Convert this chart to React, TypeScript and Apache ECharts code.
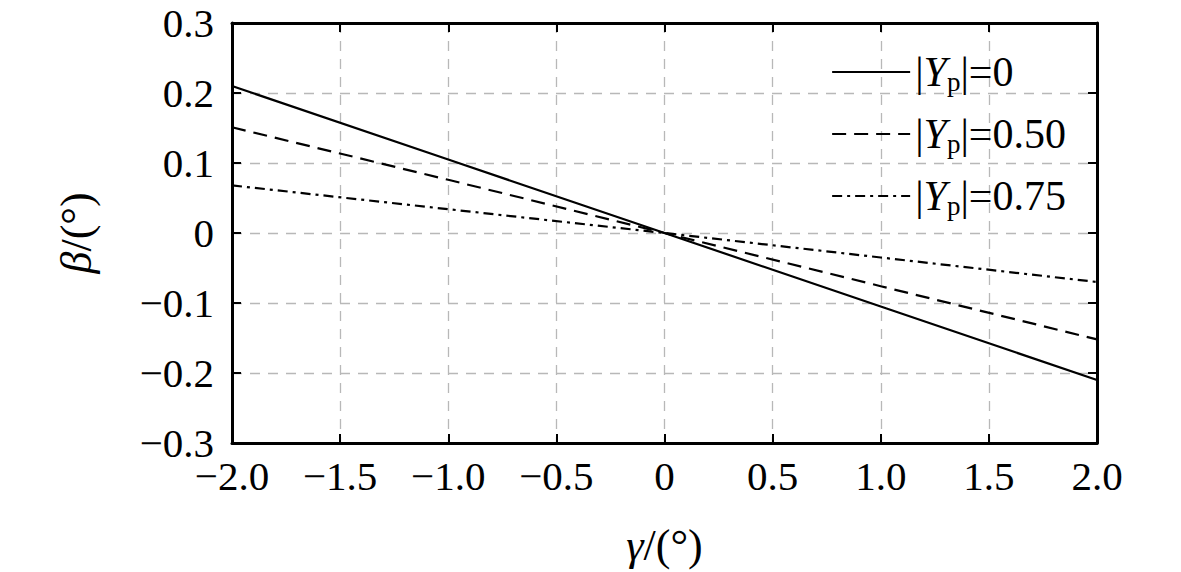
import React, { useEffect, useRef } from 'react';
import * as echarts from 'echarts';

// 横坐标 γ/(°)
const gammaValues = [-2.0, -1.0, 0, 1.0, 2.0];
// 纵坐标 β/(°)，按 |Yp| 分组
const beta_Yp0 = [0.21, 0.105, 0, -0.105, -0.21];
const beta_Yp050 = [0.151, 0.076, 0, -0.076, -0.152];
const beta_Yp075 = [0.068, 0.034, 0, -0.035, -0.07];

const seriesNames = ['{n||}{i|Y}{s|p}{n||=0}', '{n||}{i|Y}{s|p}{n||=0.50}', '{n||}{i|Y}{s|p}{n||=0.75}'];
const xTickLabels: Record<string, string> = {
  '-2': '\u22122.0', '-1.5': '\u22121.5', '-1': '\u22121.0', '-0.5': '\u22120.5',
  '0': '0', '0.5': '0.5', '1': '1.0', '1.5': '1.5', '2': '2.0',
};

const FONT = 'Liberation Serif';

const App: React.FC = () => {
  const chartRef = useRef<HTMLDivElement>(null);

  useEffect(() => {
    document.body.style.margin = '0';
    if (!chartRef.current) return;
    const chart = echarts.init(chartRef.current, undefined, { renderer: 'svg' });

    const pair = (ys: number[]) => gammaValues.map((x, i) => [x, ys[i]]);
    const fmtY = (v: number) => {
      const r = Math.round(v * 10) / 10;
      if (r === 0) return '{n|0}';
      return '{n|' + (r < 0 ? '\u2212' + Math.abs(r).toFixed(1) : r.toFixed(1)) + '}';
    };

    const mk = (size: number) => {
      const base = { fontFamily: FONT, fontSize: size, color: '#000' };
      return {
        base,
        rich: {
          n: { ...base },
          i: { ...base, fontStyle: 'italic' },
          s: { ...base, fontSize: Math.round(size * 0.64), padding: [Math.round(size * 0.45), 0, 0, 0] },
        },
      };
    };
    const lab = mk(41);
    const leg = mk(42);
    const nm = mk(44);

    const boxLine = { lineStyle: { color: '#000', width: 3 }, onZero: false };
    const tick = { inside: true, length: 9, lineStyle: { color: '#000', width: 2 } };
    const grid = { show: true, lineStyle: { color: '#b8b8b8', type: [10, 8], width: 1.3 } };

    const option = {
      animation: false,
      textStyle: { fontFamily: FONT },
      grid: { left: 232, top: 23, right: 84, bottom: 124 },
      legend: {
        right: 110,
        top: 46,
        orient: 'vertical',
        itemWidth: 78,
        itemHeight: 20,
        itemGap: 18,
        itemStyle: { opacity: 0 },
        textStyle: { ...leg.base, rich: leg.rich },
        data: seriesNames,
      },
      xAxis: [
        {
          type: 'value',
          min: -2,
          max: 2,
          interval: 0.5,
          name: '{i|\u03b3}{n|/(°)}',
          nameLocation: 'middle',
          nameGap: 80,
          nameTextStyle: { ...nm.base, rich: nm.rich },
          axisLine: boxLine,
          axisTick: tick,
          axisLabel: {
            ...lab.base, rich: lab.rich, margin: 12,
            formatter: (v: number) => '{n|' + (xTickLabels[String(v)] ?? String(v)) + '}',
          },
          splitLine: grid,
        },
        {
          type: 'value',
          position: 'top',
          min: -2,
          max: 2,
          interval: 0.5,
          axisLine: boxLine,
          axisTick: tick,
          axisLabel: { show: false },
          splitLine: { show: false },
        },
      ],
      yAxis: [
        {
          type: 'value',
          min: -0.3,
          max: 0.3,
          interval: 0.1,
          name: '{i|\u03b2}{n|/(°)}',
          nameLocation: 'middle',
          nameGap: 134,
          nameRotate: 90,
          nameTextStyle: { ...nm.base, rich: nm.rich },
          axisLine: boxLine,
          axisTick: tick,
          axisLabel: { ...lab.base, rich: lab.rich, margin: 18, formatter: fmtY },
          splitLine: grid,
        },
        {
          type: 'value',
          position: 'right',
          min: -0.3,
          max: 0.3,
          interval: 0.1,
          axisLine: boxLine,
          axisTick: tick,
          axisLabel: { show: false },
          splitLine: { show: false },
        },
      ],
      series: [
        {
          name: seriesNames[0], type: 'line', data: pair(beta_Yp0), symbol: 'none',
          itemStyle: { color: '#000' },
          lineStyle: { color: '#000', width: 2.2, type: 'solid' },
        },
        {
          name: seriesNames[1], type: 'line', data: pair(beta_Yp050), symbol: 'none',
          itemStyle: { color: '#000' },
          lineStyle: { color: '#000', width: 2.2, type: [14, 8] },
        },
        {
          name: seriesNames[2], type: 'line', data: pair(beta_Yp075), symbol: 'none',
          itemStyle: { color: '#000' },
          lineStyle: { color: '#000', width: 2.2, type: [10, 5, 3, 5] },
        },
      ],
    };

    chart.setOption(option);
    return () => chart.dispose();
  }, []);

  return <div ref={chartRef} style={{ width: 1181, height: 572 }} />;
};

export default App;
